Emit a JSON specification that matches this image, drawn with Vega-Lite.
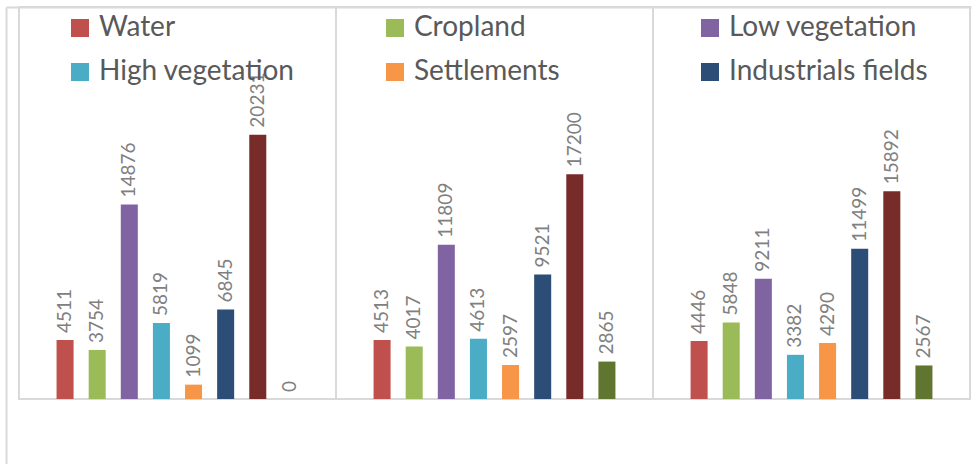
{
  "$schema": "https://vega.github.io/schema/vega-lite/v6.json",
  "width": 965,
  "height": 457,
  "autosize": {"type": "none"},
  "padding": {"left": 6, "top": 7, "right": 1, "bottom": 0},
  "config": {"view": {"stroke": null}, "font": "Lato"},
  "data": {
    "values": [
      {"group": "G1", "category": "Water", "value": 4511},
      {"group": "G1", "category": "Cropland", "value": 3754},
      {"group": "G1", "category": "Low vegetation", "value": 14876},
      {"group": "G1", "category": "High vegetation", "value": 5819},
      {"group": "G1", "category": "Settlements", "value": 1099},
      {"group": "G1", "category": "Industrials fields", "value": 6845},
      {"group": "G1", "category": "Bare soil", "value": 20231},
      {"group": "G1", "category": "Forest", "value": 0},
      {"group": "G2", "category": "Water", "value": 4513},
      {"group": "G2", "category": "Cropland", "value": 4017},
      {"group": "G2", "category": "Low vegetation", "value": 11809},
      {"group": "G2", "category": "High vegetation", "value": 4613},
      {"group": "G2", "category": "Settlements", "value": 2597},
      {"group": "G2", "category": "Industrials fields", "value": 9521},
      {"group": "G2", "category": "Bare soil", "value": 17200},
      {"group": "G2", "category": "Forest", "value": 2865},
      {"group": "G3", "category": "Water", "value": 4446},
      {"group": "G3", "category": "Cropland", "value": 5848},
      {"group": "G3", "category": "Low vegetation", "value": 9211},
      {"group": "G3", "category": "High vegetation", "value": 3382},
      {"group": "G3", "category": "Settlements", "value": 4290},
      {"group": "G3", "category": "Industrials fields", "value": 11499},
      {"group": "G3", "category": "Bare soil", "value": 15892},
      {"group": "G3", "category": "Forest", "value": 2567}
    ]
  },
  "encoding": {
    "x": {
      "field": "group",
      "type": "nominal",
      "sort": null,
      "scale": {"domain": ["G1", "G2", "G3"], "paddingInner": 0, "paddingOuter": 0.022, "align": 0.93},
      "axis": {"orient": "top", "labels": false, "ticks": false, "grid": false, "title": null, "domainColor": "#d9d9d9", "domainWidth": 2}
    },
    "xOffset": {
      "field": "category",
      "type": "nominal",
      "sort": null,
      "scale": {"domain": ["pad-left", "Water", "Cropland", "Low vegetation", "High vegetation", "Settlements", "Industrials fields", "Bare soil", "Forest", "pad-right"], "paddingInner": 0.47, "paddingOuter": 0.17}
    }
  },
  "layer": [
    {
      "transform": [{"aggregate": [{"op": "count", "as": "n"}], "groupby": ["group"]}],
      "mark": {"type": "rect", "fill": "white", "fillOpacity": 0, "stroke": "#d9d9d9", "strokeWidth": 2},
      "encoding": {
        "xOffset": null,
        "y": {
          "datum": 0,
          "type": "quantitative",
          "scale": {"domain": [-4974, 30000], "nice": false, "zero": false},
          "axis": {"labels": false, "ticks": false, "grid": false, "title": null, "domainColor": "#d9d9d9", "domainWidth": 2}
        },
        "y2": {"datum": 30000}
      }
    },
    {
      "mark": {"type": "bar"},
      "encoding": {
        "y": {"field": "value", "type": "quantitative"},
        "y2": {"datum": 0},
        "color": {
          "field": "category",
          "type": "nominal",
          "sort": null,
          "scale": {
            "domain": ["Water", "Cropland", "Low vegetation", "High vegetation", "Settlements", "Industrials fields", "Bare soil", "Forest"],
            "range": ["#C0504D", "#9BBB59", "#8064A2", "#4BACC6", "#F79646", "#2C4D75", "#772C2A", "#5F7530"]
          },
          "legend": {
            "values": ["Water", "Cropland", "Low vegetation", "High vegetation", "Settlements", "Industrials fields"],
            "orient": "none",
            "legendX": 60,
            "legendY": 7,
            "direction": "horizontal",
            "columns": 3,
            "gridAlign": "all",
            "columnPadding": 83,
            "rowPadding": 16,
            "symbolType": "square",
            "symbolSize": 324,
            "symbolStrokeWidth": 0,
            "labelOffset": 5,
            "labelFontSize": 28,
            "labelColor": "#595959",
            "labelFont": "Lato",
            "labelLimit": 400,
            "title": null,
            "padding": 0
          }
        }
      }
    },
    {
      "mark": {"type": "text", "angle": 270, "align": "left", "baseline": "middle", "dx": 7, "fontSize": 19, "color": "#808080"},
      "encoding": {
        "y": {"field": "value", "type": "quantitative"},
        "text": {"field": "value", "type": "quantitative", "format": "d"}
      }
    }
  ]
}
